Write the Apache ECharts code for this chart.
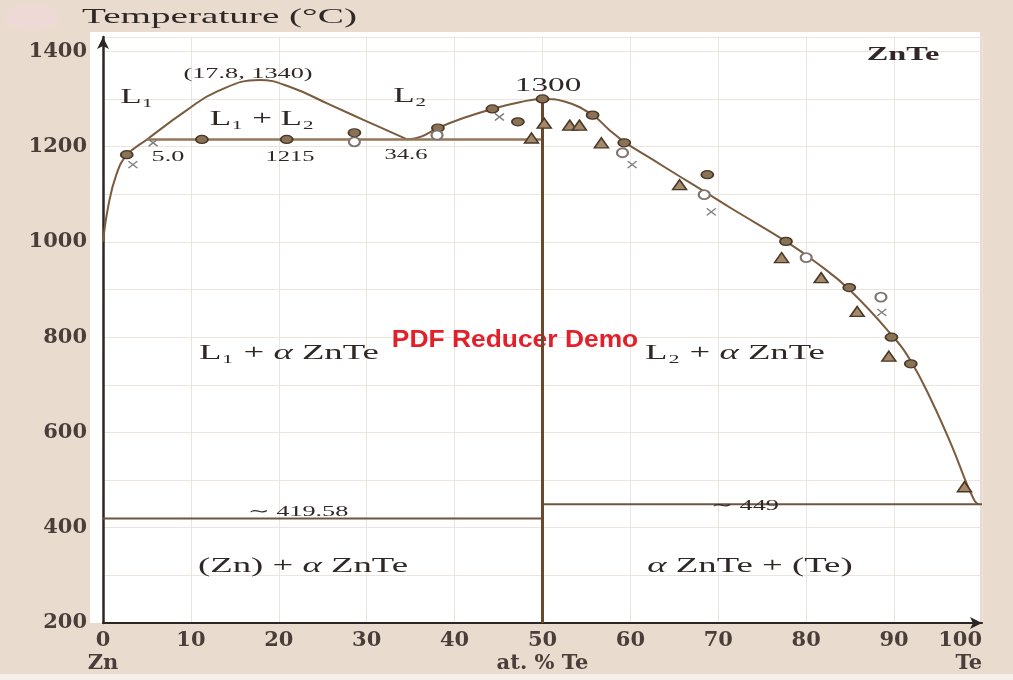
<!DOCTYPE html>
<html>
<head>
<meta charset="utf-8">
<title>Zn–Te phase diagram</title>
<script src="https://cdn.jsdelivr.net/npm/echarts@6/dist/echarts.min.js"></script>
<style>
  html, body { margin: 0; padding: 0; background: #e9dccf; }
  #chart { width: 1013px; height: 680px; }
</style>
</head>
<body>
<div id="chart"></div>
<script>
// ---- Axis ticks -------------------------------------------------------
const xTickLabels = [0, 10, 20, 30, 40, 50, 60, 70, 80, 90, 100];
const xTickNames = { 0: 'Zn', 50: 'at. % Te', 100: 'Te' };
const yTickLabels = [200, 400, 600, 800, 1000, 1200, 1400];

// ---- Invariant points (at. % Te, °C) ------------------------------------
const monotecticT = 1215;
const monotecticL1 = 5.0;
const monotecticL2 = 34.6;
const criticalPoint = [17.8, 1340];
const congruentPoint = [50, 1300];
const eutecticZnT = 419.58;
const eutecticTeT = 449;

// ---- Liquid miscibility dome (L1 / L1 + L2) -----------------------------
const domeX = [0, 0.6, 1.5, 2.7, monotecticL1, 9.5, 13.0, criticalPoint[0], 21.3, 25.8, 30.0, monotecticL2];
const domeT = [1000, 1075, 1140, 1182, monotecticT, 1276, 1316, criticalPoint[1], 1325, 1288, 1253, monotecticT];

// ---- Liquidus from the monotectic through ZnTe to Te --------------------
const liqX = [monotecticL2, 36.2, 38.1, 41.0, 44.3, 47.4, congruentPoint[0], 52.6, 55.7, 57.6, 59.3, 62.5, 65.9, 68.2, 71.6, 77.7, 81.25, 84.9, 89.7, 91.9, 94.3, 96.6, 98.2, 98.9, 99.3, 99.7];
const liqT = [monotecticT, 1221, 1239, 1260, 1279, 1293, congruentPoint[1], 1294, 1266, 1235, 1210, 1173, 1134, 1108, 1069, 1001, 955, 900, 805, 750, 665, 570, 495, 466, 453, eutecticTeT];

// ---- Experimental points ------------------------------------------------
const filledCircles = [[2.7, 1183], [11.25, monotecticT], [20.9, monotecticT], [28.6, 1229], [38.1, 1239], [44.3, 1279], [47.2, 1252], congruentPoint, [55.7, 1266], [59.3, 1208], [68.75, 1141], [77.7, 1001], [84.9, 904], [89.7, 800], [91.9, 744]];
const openCircles = [[28.6, 1210], [38.0, 1224], [59.1, 1187], [68.4, 1099], [80.0, 967], [88.5, 884]];
const triangles = [[48.75, 1218], [50.2, 1249], [53.1, 1245], [54.2, 1245], [56.7, 1208], [65.6, 1120], [77.2, 967], [81.7, 925], [85.8, 854], [89.4, 760], [98.0, 486]];
const crosses = [[3.4, 1162], [5.7, 1208], [45.1, 1262], [60.2, 1162], [69.2, 1063], [88.6, 852]];

const zip = (xs, ys) => xs.map((x, i) => [x, ys[i]]);

// ---- Styling --------------------------------------------------------------
const serif = '"Liberation Serif", "DejaVu Serif", serif';
const tickFont = '"DejaVu Serif", "Liberation Serif", serif';
const ink = '#2f2826';
const curveColor = '#7a5b3d';
const SX = 1.75; // horizontal stretch of the annotation lettering

function label(x, y, text, size, opts) {
  opts = opts || {};
  const style = {
    text: text,
    fontFamily: serif,
    fontSize: size,
    fontWeight: opts.weight || 'normal',
    fill: opts.fill || ink,
    textAlign: opts.align || 'center',
    textVerticalAlign: 'middle'
  };
  if (opts.rich) style.rich = opts.rich;
  return { type: 'text', x: x, y: y, scaleX: opts.sx || SX, z: opts.z || 50, silent: true, style: style };
}
const alpha = (size) => ({ a: { fontFamily: serif, fontSize: size, fontStyle: 'italic', fill: ink } });

const chart = echarts.init(document.getElementById('chart'), null, { renderer: 'canvas' });

chart.setOption({
  animation: false,
  backgroundColor: '#e9dccf',
  grid: { left: 103, right: 31, top: 37, bottom: 57, outerBoundsMode: 'none' },
  xAxis: {
    type: 'value', min: 0, max: 100, interval: 10,
    axisLine: { show: true, onZero: false, symbol: ['none', 'arrow'], symbolSize: [9, 12],
      lineStyle: { color: '#2b2624', width: 2 } },
    axisTick: { show: false },
    splitLine: { show: true, lineStyle: { color: '#ece5dd', width: 1 } },
    axisLabel: {
      margin: 6, fontFamily: tickFont, fontWeight: 'bold', fontSize: 21, color: '#4a3e3a', lineHeight: 23,
      alignMaxLabel: 'right',
      formatter: v => xTickLabels.includes(v) ? (xTickNames[v] ? v + '\n' + xTickNames[v] : String(v)) : ''
    }
  },
  yAxis: {
    type: 'value', min: 200, max: 1430, interval: 100,
    axisLine: { show: true, onZero: false, symbol: ['none', 'arrow'], symbolSize: [9, 12],
      lineStyle: { color: '#2b2624', width: 2.5 } },
    axisTick: { show: false },
    splitLine: { show: true, lineStyle: { color: '#ece5dd', width: 1 } },
    axisLabel: {
      margin: 16, fontFamily: tickFont, fontWeight: 'bold', fontSize: 21, color: '#4a3e3a',
      formatter: v => yTickLabels.includes(v) ? String(v) : ''
    }
  },
  graphic: [
    // plot paper and page decorations
    { type: 'rect', z: -10, silent: true, shape: { x: 90, y: 32, width: 890, height: 591 }, style: { fill: '#ffffff' } },
    { type: 'rect', z: -10, silent: true, shape: { x: 0, y: 674, width: 1013, height: 6 }, style: { fill: '#f4efe9' } },
    { type: 'ellipse', z: -10, silent: true, shape: { cx: 32, cy: 18, rx: 27, ry: 13 }, style: { fill: '#eed9d7' } },

    // titles
    label(82, 17, 'Temperature (°C)', 22, { align: 'left', sx: 1.78 }),
    label(903, 55, 'ZnTe', 19, { weight: 'bold', sx: 1.7 }),

    // phase fields
    label(137, 98, 'L₁', 20),
    label(410, 97, 'L₂', 20),
    label(262, 120, 'L₁ + L₂', 20),
    label(289, 353, 'L₁ + {a|α} ZnTe', 21, { rich: alpha(21) }),
    label(735, 353, 'L₂ + {a|α} ZnTe', 21, { rich: alpha(21) }),
    label(303, 566, '(Zn) + {a|α} ZnTe', 21, { rich: alpha(21) }),
    label(750, 566, '{a|α} ZnTe + (Te)', 21, { rich: alpha(21) }),

    // invariant values
    label(248, 74, '(' + criticalPoint[0].toFixed(1) + ', ' + criticalPoint[1] + ')', 15),
    label(548, 86, String(congruentPoint[1]), 19),
    label(168, 157, monotecticL1.toFixed(1), 15),
    label(290, 157, String(monotecticT), 14),
    label(406, 155, monotecticL2.toFixed(1), 14),
    label(298, 512, '∼ ' + eutecticZnT, 15),
    label(745, 506, '∼ ' + eutecticTeT, 15),

    // stamp
    { type: 'text', x: 515, y: 340, scaleX: 1.1, z: 1, silent: true,
      style: { text: 'PDF Reducer Demo', fontFamily: '"Liberation Sans", Arial, sans-serif', fontWeight: 'bold',
        fontSize: 24, fill: '#e3202a', textAlign: 'center', textVerticalAlign: 'middle' } }
  ],
  series: [
    { name: 'L1 dome', type: 'line', data: zip(domeX, domeT), smooth: 0.45, showSymbol: false,
      lineStyle: { color: curveColor, width: 2 }, silent: true },
    { name: 'liquidus', type: 'line', data: zip(liqX, liqT), smooth: 0.45, showSymbol: false,
      lineStyle: { color: curveColor, width: 2 }, silent: true },
    { name: 'monotectic', type: 'line', data: [[monotecticL1, monotecticT], [congruentPoint[0], monotecticT]], showSymbol: false,
      lineStyle: { color: '#93775a', width: 2.5 }, silent: true },
    { name: 'Zn eutectic', type: 'line', data: [[0, eutecticZnT], [congruentPoint[0], eutecticZnT]], showSymbol: false,
      lineStyle: { color: '#6f5641', width: 2 }, silent: true },
    { name: 'Te eutectic', type: 'line', data: [[congruentPoint[0], eutecticTeT], [100, eutecticTeT]], showSymbol: false,
      lineStyle: { color: '#6f5641', width: 2 }, silent: true },
    { name: 'ZnTe', type: 'line', data: [[congruentPoint[0], 200], congruentPoint], showSymbol: false,
      lineStyle: { color: '#6a4829', width: 3 }, silent: true },

    { name: 'filled', type: 'scatter', data: filledCircles, symbol: 'circle', symbolSize: [12, 8], z: 5,
      itemStyle: { color: '#8a7257', borderColor: '#4a3826', borderWidth: 1.5, opacity: 1 } },
    { name: 'open', type: 'scatter', data: openCircles, symbol: 'circle', symbolSize: [11, 9], z: 5,
      itemStyle: { color: '#ffffff', borderColor: '#7e7570', borderWidth: 2, opacity: 1 } },
    { name: 'triangle', type: 'scatter', data: triangles, symbol: 'triangle', symbolSize: [14, 10], z: 5,
      itemStyle: { color: '#a48a6a', borderColor: '#4a3826', borderWidth: 1.5, opacity: 1 } },
    { name: 'cross', type: 'scatter', data: crosses, symbol: 'path://M0,0L10,10M10,0L0,10', symbolSize: [9, 7], z: 5,
      itemStyle: { color: 'rgba(0,0,0,0)', borderColor: '#7d7d7d', borderWidth: 1.4, opacity: 1 } }
  ]
});
</script>
</body>
</html>
